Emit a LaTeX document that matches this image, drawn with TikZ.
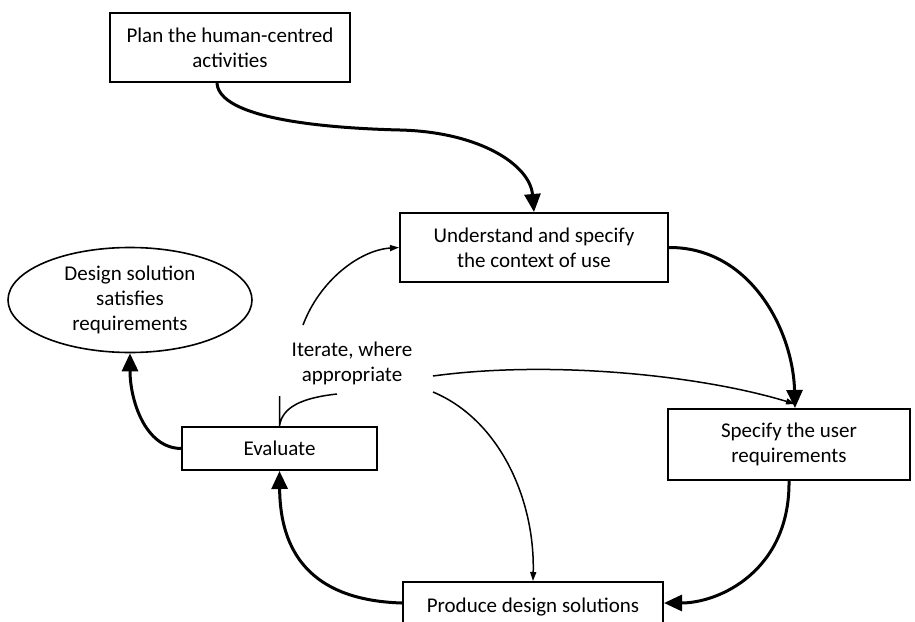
\documentclass[tikz,border=0pt]{standalone}
\usepackage{fontspec}
\setmainfont{Carlito}
\usetikzlibrary{arrows.meta,shapes.geometric}
\begin{document}
\begin{tikzpicture}[x=1pt,y=-1pt,
  box/.style={rectangle,draw=black,line width=2pt,align=center,inner sep=0pt},
  oval/.style={ellipse,draw=black,line width=1.6pt,align=center,inner sep=0pt},
  bigarr/.style={line width=3pt,-{Triangle[length=18pt,width=16pt]}},
  thinarr/.style={line width=1.5pt,-{Triangle[length=9pt,width=6pt]}},
  font=\fontsize{21}{25}\selectfont]
\useasboundingbox (0,0) rectangle (915,621);
% Boxes
\draw (230,47.5) node(plan)[box,minimum width=240pt,minimum height=69pt] {Plan the human-centred\\activities};
\draw (534,247.5) node(und)[box,minimum width=268pt,minimum height=69pt] {Understand and specify\\the context of use};
\draw (789,444.5) node(spec)[box,minimum width=242pt,minimum height=71pt] {Specify the user\\requirements};
\draw (533,607) node(prod)[box,minimum width=260pt,minimum height=50pt] {Produce design solutions};
\draw (279.5,448.5) node(eval)[box,minimum width=195pt,minimum height=43pt] {Evaluate};
\draw (130,300) node(goal)[oval,minimum width=244pt,minimum height=105pt] {Design solution\\satisfies\\requirements};
% Iterate label
\draw (352,363) node(iter)[align=center] {Iterate, where\\appropriate};
\coordinate (itup) at (303,325);
\coordinate (itdown) at (337,394);
\coordinate (itright) at (433,376);
\coordinate (itlow) at (433,392);
% Main cycle
\draw[bigarr] ([xshift=-13pt]plan.south) .. controls (219,118) and (320,128) .. (400,130) .. controls (480,132) and (530,165) .. (und.north);
\draw[bigarr] (und.east) .. controls (750,247) and (793,330) .. ([xshift=6pt]spec.north);
\draw[bigarr] (spec.south) .. controls (790,570) and (720,603) .. ([yshift=4pt]prod.east);
\draw[bigarr] ([yshift=4pt]prod.west) .. controls (300,600) and (280,540) .. (eval.south);
\draw[bigarr] (eval.west) .. controls (145,448) and (130,400) .. (goal.south);
% Iterations
\draw[thinarr] (itup) .. controls (320,280) and (360,250) .. (und.west);
\draw[line width=1.5pt] (itdown) .. controls (300,398) and (282,408) .. (eval.north) -- ++(0,-30);
\draw[thinarr] (itright) .. controls (550,360) and (700,375) .. ([xshift=6pt,yshift=4pt]spec.north);
\draw[thinarr] (itlow) .. controls (500,420) and (535,500) .. (prod.north);
\end{tikzpicture}
\end{document}
